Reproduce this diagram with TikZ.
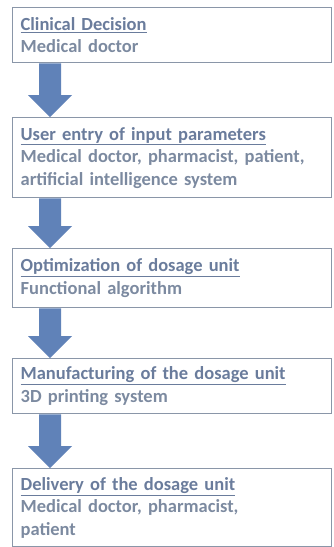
\documentclass[tikz,border=0pt]{standalone}
\usepackage{fontspec}
\setmainfont{Carlito}
\usetikzlibrary{calc}
\definecolor{boxline}{HTML}{8A96A8}
\definecolor{headcol}{HTML}{6A7C9C}
\definecolor{bodycol}{HTML}{7C8AA0}
\definecolor{arrowcol}{HTML}{6082B8}
\newcommand{\hd}[1]{{\color{headcol}\underline{#1}}}
\begin{document}
\begin{tikzpicture}[x=1pt,y=-1pt,
  stage/.style={draw=boxline, line width=1.3pt, anchor=north west,
    minimum width=319pt, text width=303pt, inner xsep=8pt, inner ysep=0pt,
    align=left, text=bodycol,
    font=\fontsize{18.5pt}{22.5pt}\selectfont\bfseries},
  flowarrow/.style={fill=arrowcol}]
\useasboundingbox (0,0) rectangle (333,547);
\node[stage, minimum height=55pt] (b1) at (12,7) {\hd{Clinical Decision}\\Medical doctor};
\node[stage, minimum height=80pt] (b2) at (12,117) {\hd{User entry of input parameters}\\Medical doctor, pharmacist, patient,\\artificial intelligence system};
\node[stage, minimum height=59pt] (b3) at (12,248) {\hd{Optimization of dosage unit}\\Functional algorithm};
\node[stage, minimum height=55pt] (b4) at (12,358) {\hd{Manufacturing of the dosage unit}\\3D printing system};
\node[stage, minimum height=78pt] (b5) at (12,468) {\hd{Delivery of the dosage unit}\\Medical doctor, pharmacist,\\patient};
\foreach \a/\b in {b1/b2,b2/b3,b3/b4,b4/b5}{
  \fill[flowarrow] let \p1=($(\a.south west)+(38,0)$), \p2=($(\b.north west)+(38,0)$) in
    (\x1-11pt,\y1) -- (\x1+11pt,\y1) -- (\x1+11pt,\y2+22pt) -- (\x1+22pt,\y2+22pt)
    -- (\x1,\y2) -- (\x1-22pt,\y2+22pt) -- (\x1-11pt,\y2+22pt) -- cycle;
}
\end{tikzpicture}
\end{document}
